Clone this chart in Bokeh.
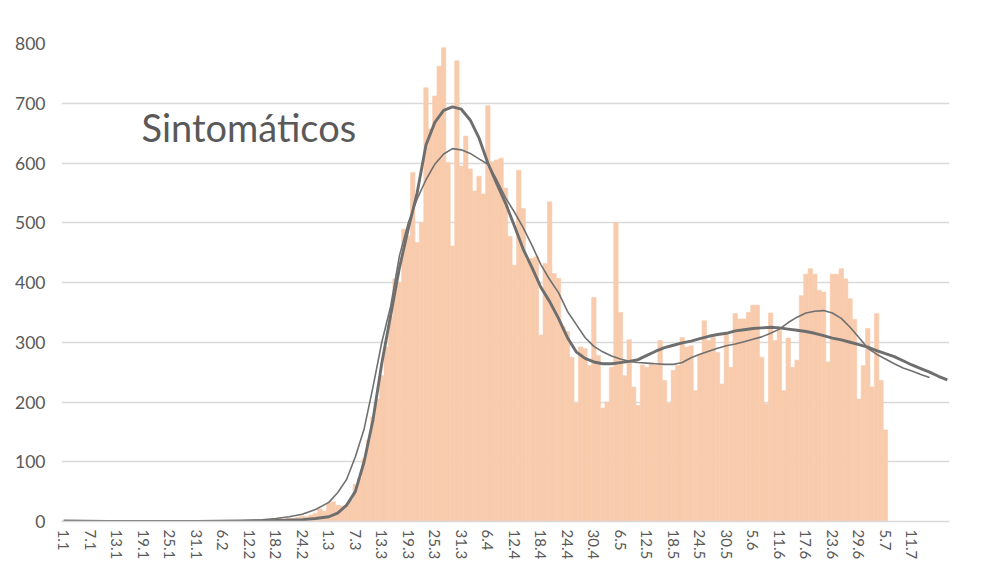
from bokeh.plotting import figure
from bokeh.models import FixedTicker, Label, Range1d
from bokeh.embed import file_html
from bokeh.resources import INLINE

# Daily symptomatic cases, day 0 = 1 January (2020)
cases = [
    1, 0, 0, 0, 0, 0, 0, 0, 0, 0,
    0, 0, 0, 0, 0, 0, 0, 0, 0, 0,
    0, 0, 0, 0, 0, 0, 0, 0, 0, 0,
    0, 0, 0, 0, 0, 0, 0, 0, 0, 0,
    0, 0, 1, 1, 2, 2, 3, 2, 4, 5,
    4, 6, 5, 7, 9, 8, 11, 14, 21, 17,
    31, 33, 27, 26, 27, 36, 62, 72, 105, 136,
    175, 205, 244, 292, 342, 406, 400, 489, 478, 584,
    467, 500, 726, 657, 712, 762, 793, 601, 461, 771,
    595, 645, 590, 553, 578, 548, 696, 602, 605, 608,
    558, 477, 429, 588, 524, 438, 440, 443, 312, 432,
    535, 415, 407, 326, 318, 275, 198, 292, 289, 261,
    375, 278, 190, 200, 258, 500, 350, 244, 304, 225,
    194, 262, 258, 265, 262, 303, 236, 198, 253, 261,
    308, 292, 294, 219, 280, 336, 303, 308, 283, 230,
    314, 258, 348, 339, 339, 350, 362, 362, 275, 197,
    349, 303, 320, 219, 307, 258, 270, 378, 414, 423,
    414, 387, 384, 267, 414, 414, 423, 406, 373, 338,
    205, 261, 323, 225, 348, 236, 153,
]
days = list(range(len(cases)))

# Smoothed curve 1 (thick)
thick_day = [0, 10, 20, 30, 40, 45, 50, 54, 57, 60, 62, 64, 66, 68, 70, 72, 74, 76, 78, 80,
             82, 84, 86, 88, 90, 92, 94, 96, 98, 100, 102, 104, 106, 108, 110, 112, 114, 116,
             118, 120, 122, 124, 126, 128, 130, 132, 134, 136, 138, 140, 142, 144, 146, 148,
             150, 152, 154, 156, 158, 160, 162, 164, 166, 168, 170, 172, 174, 176, 178, 180,
             182, 184, 186, 188, 190, 192, 194, 196, 198, 200]
thick_val = [1, 0, 0, 0, 1, 1, 2, 3, 5, 8, 14, 27, 50, 100, 170, 265, 345, 425, 490, 550,
             630, 668, 688, 694, 690, 672, 642, 600, 566, 533, 495, 456, 425, 392, 368, 340, 308, 284,
             273, 267, 264, 264, 266, 268, 271, 278, 285, 291, 295, 299, 302, 306, 310, 313,
             315, 319, 321, 323, 324, 325, 324, 322, 320, 318, 315, 311, 307, 304, 300, 296,
             292, 286, 281, 276, 269, 262, 256, 250, 243, 237]

# Smoothed curve 2 (thin)
thin_day = [0, 10, 20, 30, 40, 42, 45, 48, 51, 54, 57, 60, 62, 64, 66, 68, 70, 72, 74, 76,
            78, 80, 82, 84, 86, 88, 90, 92, 94, 96, 98, 100, 102, 104, 106, 108, 110, 112,
            114, 116, 118, 120, 122, 124, 126, 128, 130, 132, 134, 136, 138, 140, 142, 144,
            146, 148, 150, 152, 154, 156, 158, 160, 162, 164, 166, 168, 170, 172, 174, 176,
            178, 180, 182, 184, 186, 188, 190, 192, 194, 196]
thin_val = [1, 0, 0, 0, 1, 2, 3, 5, 8, 12, 20, 32, 48, 70, 108, 155, 225, 300, 360, 445,
            500, 540, 572, 598, 615, 624, 622, 616, 607, 598, 572, 542, 518, 492, 462, 430, 405, 383,
            352, 330, 308, 293, 284, 277, 272, 268, 266, 265, 264, 263, 263, 266, 274, 280,
            285, 290, 294, 297, 301, 305, 309, 315, 322, 333, 342, 349, 352, 353, 349, 340,
            325, 308, 290, 280, 272, 264, 257, 252, 246, 241]

tick_labels = ["1.1", "7.1", "13.1", "19.1", "25.1", "31.1", "6.2", "12.2", "18.2", "24.2",
               "1.3", "7.3", "13.3", "19.3", "25.3", "31.3", "6.4", "12.4", "18.4", "24.4",
               "30.4", "6.5", "12.5", "18.5", "24.5", "30.5", "5.6", "11.6", "17.6", "23.6",
               "29.6", "5.7", "11.7"]
tick_step = 6
y_ticks = [0, 100, 200, 300, 400, 500, 600, 700, 800]

FONT = "Lato"
TXT = "#595959"
GRID = "#D9D9D9"
BAR = "#F8CBAD"

p = figure(width=982, height=565,
           x_range=Range1d(-0.5, 200.5), y_range=Range1d(0, 800),
           output_backend="svg", toolbar_location=None,
           min_border_left=61, min_border_right=33,
           min_border_top=43, min_border_bottom=44)
p.outline_line_color = None
p.background_fill_color = "white"
p.border_fill_color = "white"

p.vbar(x=days, top=cases, width=1.0, fill_color=BAR, line_color=BAR, line_width=0.6)
p.line(thin_day, thin_val, line_width=1.6, line_color="#707070")
p.line(thick_day, thick_val, line_width=2.9, line_color="#6E6E6E")

tick_pos = [i * tick_step for i in range(len(tick_labels))]
p.xaxis.ticker = FixedTicker(ticks=tick_pos)
p.xaxis.major_label_overrides = {pos: lab for pos, lab in zip(tick_pos, tick_labels)}
p.xaxis.major_label_orientation = "vertical"
p.xaxis.axis_line_color = GRID
p.xaxis.axis_line_width = 1.5
p.xaxis.major_tick_line_color = None
p.xaxis.minor_tick_line_color = None
p.xaxis.major_tick_out = 0
p.xaxis.major_tick_in = 0
p.xaxis.major_label_standoff = 8
p.xaxis.major_label_text_font = FONT
p.xaxis.major_label_text_font_size = "15px"
p.xaxis.major_label_text_color = TXT

p.yaxis.ticker = FixedTicker(ticks=y_ticks)
p.yaxis.axis_line_color = None
p.yaxis.major_tick_line_color = None
p.yaxis.minor_tick_line_color = None
p.yaxis.major_tick_out = 0
p.yaxis.major_tick_in = 0
p.yaxis.major_label_standoff = 16
p.yaxis.major_label_text_font = FONT
p.yaxis.major_label_text_font_size = "17.5px"
p.yaxis.major_label_text_color = TXT

p.xgrid.visible = False
p.ygrid.grid_line_color = GRID
p.ygrid.grid_line_width = 1.5

p.add_layout(Label(x=17.6, y=660, text="Sintomáticos", text_font=FONT,
                   text_font_size="38px", text_color=TXT,
                   text_baseline="alphabetic"))

open("out.html", "w").write(file_html(p, INLINE))
